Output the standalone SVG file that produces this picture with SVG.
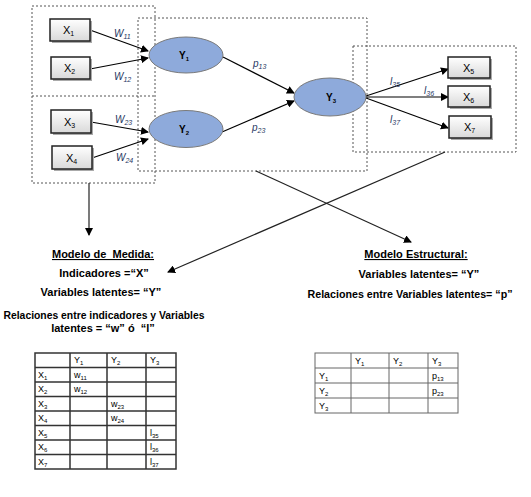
<svg xmlns="http://www.w3.org/2000/svg" width="531" height="497" viewBox="0 0 531 497">
<style>
.dash{fill:none;stroke:#555;stroke-width:1;stroke-dasharray:2,2}
.box{fill:url(#g);stroke:#222;stroke-width:1.5}
.sh{fill:#aaa}
.ell{fill:#8eaadb;stroke:#7a7a7a;stroke-width:1}
.lbl{font-family:"Liberation Sans",Arial,sans-serif;font-size:11px;fill:#000}
.lv{font-family:"Liberation Sans",Arial,sans-serif;font-size:10px;font-weight:bold;fill:#000}
.ed{stroke:#000;stroke-width:1.2;fill:none;marker-end:url(#ah)}
.co{stroke:#222;stroke-width:1.2;fill:none;marker-end:url(#ah)}
.wl{font-family:"Liberation Sans",Arial,sans-serif;font-size:10px;font-style:italic;fill:#1f3864}
.tb{font-family:"Liberation Sans",Arial,sans-serif;font-size:11px;font-weight:bold;fill:#000;text-anchor:middle}
.tc{font-family:"Liberation Sans",Arial,sans-serif;font-size:9px;fill:#000}
.tl{stroke:#333;stroke-width:1.5;fill:none}
.tr{stroke:#666;stroke-width:1;fill:none}
</style>
<defs>
<linearGradient id="g" x1="0" y1="0" x2="0" y2="1"><stop offset="0" stop-color="#ffffff"/><stop offset="1" stop-color="#d9d9d9"/></linearGradient>
<marker id="ah" markerWidth="8" markerHeight="8" refX="7" refY="4" orient="auto" markerUnits="userSpaceOnUse"><path d="M0,0 L8,4 L0,8 z" fill="#000"/></marker>
</defs>
<rect width="531" height="497" fill="#fff"/>
<g id="groups">
<rect class="dash" x="32" y="6" width="123" height="177"/>
<line class="dash" x1="32" y1="96" x2="155" y2="96"/>
<rect class="dash" x="138" y="18" width="229" height="153"/>
<rect class="dash" x="353" y="46" width="163" height="106"/>
</g>
<g id="connectors">
<line class="ed" x1="90" y1="30" x2="148" y2="51"/>
<line class="ed" x1="90" y1="69" x2="148" y2="58"/>
<line class="ed" x1="91" y1="122" x2="148" y2="132"/>
<line class="ed" x1="92" y1="158" x2="148" y2="139"/>
<line class="ed" x1="223" y1="57" x2="294" y2="93"/>
<line class="ed" x1="222" y1="132" x2="294" y2="101"/>
<line class="ed" x1="366" y1="96" x2="448" y2="69"/>
<line class="ed" x1="366" y1="97" x2="448" y2="97"/>
<line class="ed" x1="366" y1="98" x2="448" y2="128"/>
<line class="co" x1="89" y1="183" x2="89" y2="235"/>
<line class="co" x1="256" y1="171" x2="411" y2="242"/>
<line class="co" x1="445" y1="152" x2="168" y2="272"/>
<text class="wl" x="114" y="37">W<tspan font-size="7" dy="2">11</tspan></text>
<text class="wl" x="114" y="80">W<tspan font-size="7" dy="2">12</tspan></text>
<text class="wl" x="115" y="123">W<tspan font-size="7" dy="2">23</tspan></text>
<text class="wl" x="116" y="161">W<tspan font-size="7" dy="2">24</tspan></text>
<text class="wl" x="253" y="67">p<tspan font-size="7" dy="2">13</tspan></text>
<text class="wl" x="252" y="131">p<tspan font-size="7" dy="2">23</tspan></text>
<text class="wl" x="390" y="85">l<tspan font-size="7" dy="2">35</tspan></text>
<text class="wl" x="424" y="94">l<tspan font-size="7" dy="2">36</tspan></text>
<text class="wl" x="390" y="123">l<tspan font-size="7" dy="2">37</tspan></text>
</g>
<g id="X1"><rect class="sh" x="52" y="21" width="40" height="22"/><rect class="box" x="50" y="19" width="40" height="22"/><text class="lbl" x="63" y="34">X<tspan font-size="7" dy="2">1</tspan></text></g>
<g id="X2"><rect class="sh" x="53" y="59" width="39" height="22"/><rect class="box" x="51" y="57" width="39" height="22"/><text class="lbl" x="64" y="72">X<tspan font-size="7" dy="2">2</tspan></text></g>
<g id="X3"><rect class="sh" x="53" y="112" width="40" height="23"/><rect class="box" x="51" y="110" width="40" height="23"/><text class="lbl" x="64" y="126">X<tspan font-size="7" dy="2">3</tspan></text></g>
<g id="X4"><rect class="sh" x="54" y="148" width="40" height="23"/><rect class="box" x="52" y="146" width="40" height="23"/><text class="lbl" x="66" y="162">X<tspan font-size="7" dy="2">4</tspan></text></g>
<g id="Y1"><ellipse class="ell" cx="186" cy="55" rx="37" ry="18"/><text class="lv" x="179" y="59">Y<tspan font-size="6" dy="2">1</tspan></text></g>
<g id="Y2"><ellipse class="ell" cx="186" cy="129" rx="37" ry="18.5"/><text class="lv" x="179" y="133">Y<tspan font-size="6" dy="2">2</tspan></text></g>
<g id="Y3"><ellipse class="ell" cx="330" cy="97" rx="36" ry="19"/><text class="lv" x="326" y="101">Y<tspan font-size="6" dy="2">3</tspan></text></g>
<g id="X5"><rect class="sh" x="450" y="59" width="42" height="21"/><rect class="box" x="448" y="57" width="42" height="21"/><text class="lbl" x="463" y="72">X<tspan font-size="7" dy="2">5</tspan></text></g>
<g id="X6"><rect class="sh" x="450" y="88" width="42" height="21"/><rect class="box" x="448" y="86" width="42" height="21"/><text class="lbl" x="463" y="101">X<tspan font-size="7" dy="2">6</tspan></text></g>
<g id="X7"><rect class="sh" x="451" y="118" width="42" height="22"/><rect class="box" x="449" y="116" width="42" height="22"/><text class="lbl" x="464" y="131">X<tspan font-size="7" dy="2">7</tspan></text></g>
<g id="medida">
<text class="tb" x="103" y="258" text-decoration="underline">Modelo de&#160; Medida:</text>
<text class="tb" x="104" y="277">Indicadores =“X”</text>
<text class="tb" x="101" y="296">Variables latentes= “Y”</text>
<text class="tb" x="104" y="319" textLength="201" lengthAdjust="spacingAndGlyphs">Relaciones entre indicadores y Variables</text>
<text class="tb" x="103" y="332">latentes = “w” ó&#160; “l”</text>
</g>
<g id="estructural">
<text class="tb" x="416" y="258" text-decoration="underline">Modelo Estructural:</text>
<text class="tb" x="419" y="278">Variables latentes= “Y”</text>
<text class="tb" x="410" y="298" textLength="205" lengthAdjust="spacingAndGlyphs">Relaciones entre Variables latentes= “p”</text>
</g>
<g id="tabla1">
<rect class="tl" x="35" y="353" width="141" height="116"/>
<path class="tl" d="M70,353V469M107,353V469M146,353V469M35,367.5H176M35,382H176M35,396.5H176M35,411H176M35,425.5H176M35,440H176M35,454.5H176"/>
<g class="tc">
<text x="74" y="363">Y<tspan font-size="6" dy="2">1</tspan></text>
<text x="111" y="363">Y<tspan font-size="6" dy="2">2</tspan></text>
<text x="150" y="363">Y<tspan font-size="6" dy="2">3</tspan></text>
<text x="38" y="378">X<tspan font-size="6" dy="2">1</tspan></text>
<text x="38" y="392">X<tspan font-size="6" dy="2">2</tspan></text>
<text x="38" y="407">X<tspan font-size="6" dy="2">3</tspan></text>
<text x="38" y="421">X<tspan font-size="6" dy="2">4</tspan></text>
<text x="38" y="436">X<tspan font-size="6" dy="2">5</tspan></text>
<text x="38" y="450">X<tspan font-size="6" dy="2">6</tspan></text>
<text x="38" y="465">X<tspan font-size="6" dy="2">7</tspan></text>
<text x="74" y="378">w<tspan font-size="6" dy="2">11</tspan></text>
<text x="74" y="392">w<tspan font-size="6" dy="2">12</tspan></text>
<text x="111" y="407">w<tspan font-size="6" dy="2">23</tspan></text>
<text x="111" y="421">w<tspan font-size="6" dy="2">24</tspan></text>
<text x="150" y="436">l<tspan font-size="6" dy="2">35</tspan></text>
<text x="150" y="450">l<tspan font-size="6" dy="2">36</tspan></text>
<text x="150" y="465">l<tspan font-size="6" dy="2">37</tspan></text>
</g>
</g>
<g id="tabla2">
<rect class="tr" x="315" y="353" width="143" height="60"/>
<path class="tr" d="M351,353V413M389,353V413M428,353V413M315,368H458M315,383H458M315,398H458"/>
<g class="tc">
<text x="355" y="364">Y<tspan font-size="6" dy="2">1</tspan></text>
<text x="393" y="364">Y<tspan font-size="6" dy="2">2</tspan></text>
<text x="432" y="364">Y<tspan font-size="6" dy="2">3</tspan></text>
<text x="319" y="379">Y<tspan font-size="6" dy="2">1</tspan></text>
<text x="319" y="394">Y<tspan font-size="6" dy="2">2</tspan></text>
<text x="319" y="409">Y<tspan font-size="6" dy="2">3</tspan></text>
<text x="432" y="379">p<tspan font-size="6" dy="2">13</tspan></text>
<text x="432" y="394">p<tspan font-size="6" dy="2">23</tspan></text>
</g>
</g>
</svg>
